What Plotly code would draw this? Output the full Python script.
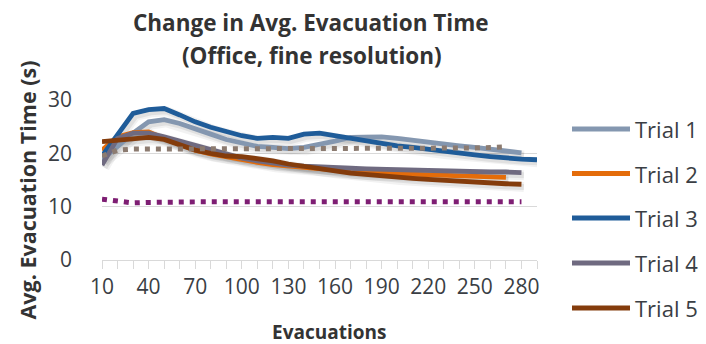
import plotly.graph_objects as go

evacuations = list(range(10, 300, 10))  # 10..290
tick_labels = [str(v) if (v - 10) % 30 == 0 else "" for v in evacuations]

trial1 = [18.8, 21.3, 23.8, 25.9, 26.3, 25.6, 24.5, 23.6, 22.6, 21.9, 21.3, 21.1, 20.9, 21.1,
          21.6, 22.3, 23.0, 23.1, 23.1, 22.8, 22.4, 22.0, 21.7, 21.4, 21.1, 20.8, 20.4, 20.1]
trial2 = [20.6, 23.1, 23.9, 24.0, 22.8, 21.6, 20.6, 19.9, 19.3, 18.8, 18.3, 17.9, 17.6, 17.3,
          17.1, 16.8, 16.6, 16.4, 16.3, 16.2, 16.1, 15.9, 15.8, 15.8, 15.7, 15.6, 15.5]
trial3 = [19.5, 23.4, 27.5, 28.2, 28.4, 27.2, 25.9, 24.9, 24.1, 23.3, 22.8, 23.0, 22.8, 23.6,
          23.8, 23.3, 22.8, 22.3, 21.9, 21.4, 21.1, 20.7, 20.3, 20.0, 19.7, 19.4, 19.1, 18.9, 18.8]
trial4 = [17.8, 22.8, 23.8, 23.8, 23.1, 22.3, 21.4, 20.5, 19.7, 19.1, 18.6, 18.1, 17.8, 17.6,
          17.4, 17.3, 17.2, 17.1, 17.0, 16.9, 16.9, 16.8, 16.7, 16.6, 16.6, 16.5, 16.5, 16.4]
trial5 = [22.2, 22.5, 22.8, 23.0, 22.6, 21.6, 20.6, 20.0, 19.5, 19.4, 19.1, 18.6, 18.0, 17.5,
          17.1, 16.7, 16.3, 16.0, 15.8, 15.5, 15.3, 15.1, 14.9, 14.8, 14.6, 14.5, 14.3, 14.2]
dotted_avg = [19.5, 20.6, 20.8, 20.8, 20.8, 20.8, 20.8, 20.8, 20.8, 20.8, 20.8, 20.8, 20.8, 20.8,
              20.8, 20.8, 20.8, 20.9, 20.9, 20.9, 20.9, 20.9, 20.9, 21.0, 21.0, 21.1, 21.2]
dotted_base = [11.4, 11.1, 10.7, 10.8, 10.9, 10.9, 10.9, 10.9, 10.9, 10.9, 10.9, 10.9, 10.9, 10.9,
               10.9, 10.9, 10.9, 10.9, 10.9, 10.9, 10.9, 10.9, 10.9, 10.9, 10.9, 10.9, 10.9, 10.9]
series_names = ["Trial 1", "Trial 2", "Trial 3", "Trial 4", "Trial 5"]
series_values = [trial1, trial2, trial3, trial4, trial5]
series_colors = ["#8497B0", "#E46C0A", "#1F5C99", "#6F6A80", "#843C0C"]

FONT = "Open Sans"
TXT = "#3A3E44"
HEAD = "#333333"

# the page body adds an 8px margin, so the figure is sized and placed to compensate
OFF = 8
W, H = 706 - OFF, 344 - OFF
L, T = 102 - OFF, 100 - OFF
PW, PH = 435, 160
R, B = W - L - PW, H - T - PH


def px(xp):  # reference-page pixel x -> paper coordinate
    return (xp - OFF - L) / PW


def py(yp):  # reference-page pixel y -> paper coordinate
    return (T + PH - (yp - OFF)) / PH


fig = go.Figure()
# soft drop shadows under the solid series
for vals in series_values:
    xs = [v + 1.6 for v in evacuations[:len(vals)]]
    ys = [v - 0.5 for v in vals]
    for wdt, alpha in ((10, 0.05), (6, 0.07)):
        fig.add_trace(go.Scatter(x=xs, y=ys, mode="lines", showlegend=False, hoverinfo="skip",
                                 line=dict(color=f"rgba(0,0,0,{alpha})", width=wdt)))
for name, vals, col in zip(series_names, series_values, series_colors):
    fig.add_trace(go.Scatter(
        x=evacuations[:len(vals)], y=vals, name=name, mode="lines",
        line=dict(color=col, width=4.8), showlegend=False,
    ))
fig.add_trace(go.Scatter(
    x=evacuations[:len(dotted_avg)], y=dotted_avg, mode="lines", showlegend=False,
    line=dict(color="#8C7B70", width=5, dash="5px,6px"),
))
fig.add_trace(go.Scatter(
    x=evacuations[:len(dotted_base)], y=dotted_base, mode="lines", showlegend=False,
    line=dict(color="#7E1E73", width=5, dash="5px,6px"),
))

shapes = []
annotations = []
# legend (drawn manually so the swatches match the reference length)
leg_y = [129, 173.5, 218, 263, 308]
for name, col, yy in zip(series_names, series_colors, leg_y):
    shapes.append(dict(type="line", xref="paper", yref="paper",
                       x0=px(572), x1=px(630), y0=py(yy), y1=py(yy),
                       line=dict(color=col, width=4.8)))
    annotations.append(dict(text=name, xref="paper", yref="paper",
                            x=px(633), y=py(yy), xanchor="left", yanchor="middle",
                            showarrow=False, font=dict(size=22, color=TXT)))
# title
annotations.append(dict(text="<b>Change in Avg. Evacuation Time</b>", xref="paper", yref="paper",
                        x=px(311), y=py(22), xanchor="center", yanchor="middle",
                        showarrow=False, font=dict(size=22.5, color=HEAD)))
annotations.append(dict(text="<b>(Office, fine resolution)</b>", xref="paper", yref="paper",
                        x=px(312), y=py(55), xanchor="center", yanchor="middle",
                        showarrow=False, font=dict(size=22.5, color=HEAD)))
# axis titles
annotations.append(dict(text="<b>Avg. Evacuation Time (s)</b>", xref="paper", yref="paper",
                        x=px(27), y=py(190.5), xanchor="center", yanchor="middle", textangle=-90,
                        showarrow=False, font=dict(size=21.5, color=HEAD)))
annotations.append(dict(text="<b>Evacuations</b>", xref="paper", yref="paper",
                        x=px(329), y=py(332), xanchor="center", yanchor="middle",
                        showarrow=False, font=dict(size=19, color=HEAD)))

fig.update_layout(
    width=W, height=H,
    margin=dict(l=L, r=R, t=T, b=B),
    paper_bgcolor="white", plot_bgcolor="white",
    font=dict(family=FONT, color=TXT, size=21),
    showlegend=False,
    shapes=shapes, annotations=annotations,
)
fig.update_xaxes(
    range=[10, 290], tickmode="array", tickvals=evacuations, ticktext=tick_labels,
    ticks="outside", ticklen=8, tickcolor="#D9D9D9", tickwidth=1,
    showline=True, linecolor="#D9D9D9", linewidth=1, showgrid=False, zeroline=False,
    tickfont=dict(size=21, color=TXT),
)
fig.update_yaxes(
    range=[0, 30], dtick=10, showgrid=True, gridcolor="#D9D9D9", gridwidth=1,
    zeroline=False, showline=False, ticks="", ticklabelstandoff=29,
    tickfont=dict(size=21, color=TXT),
)

fig.write_html("out.html")
